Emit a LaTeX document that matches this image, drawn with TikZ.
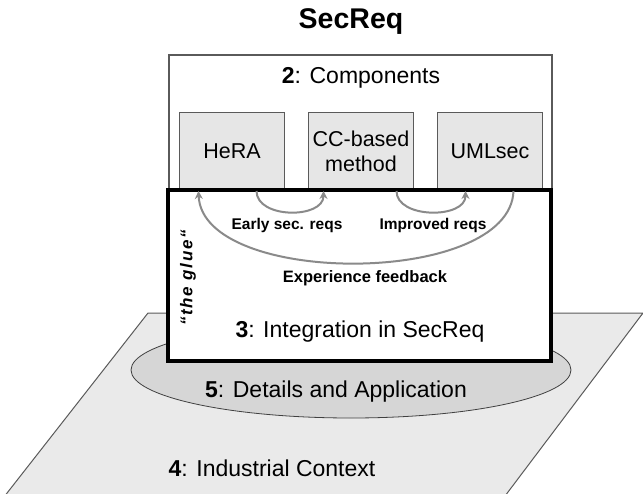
\documentclass[tikz,border=0pt]{standalone}
\usepackage{fontspec}
\setmainfont{Liberation Sans}
\newfontfamily\gluefont[LetterSpace=10]{Liberation Sans}
\usetikzlibrary{arrows.meta,shapes.geometric}
\definecolor{compfill}{HTML}{E6E6E6}
\definecolor{compline}{HTML}{5A5A5A}
\definecolor{ctxfill}{HTML}{EAEAEA}
\definecolor{ellfill}{HTML}{D6D6D6}
\definecolor{arrowgray}{HTML}{8A8A8A}
\tikzset{
  compbox/.style={draw=compline, fill=compfill, line width=1pt, minimum width=105pt, minimum height=78pt, anchor=north west, inner sep=0pt, align=center, font=\fontsize{21.5}{25}\selectfont},
  bigtext/.style={font=\fontsize{23}{27}\selectfont, inner sep=0pt},
  smalllabel/.style={font=\bfseries\fontsize{15.5}{18}\selectfont, inner sep=0pt},
  flow/.style={draw=arrowgray, line width=2pt, -{Stealth[length=8pt,width=8pt]}},
}
\begin{document}
\begin{tikzpicture}[x=1pt,y=-1pt]
\useasboundingbox (0,0) rectangle (643,493);
\begin{scope}
\clip (0,0) rectangle (643,493);
\fill[ctxfill] (1.6,500) -- (148,313) -- (643,313) -- (502,500) -- cycle;
\draw[compline, line width=1pt] (1.6,500) -- (148,313) -- (643,313) -- (502,500);
\end{scope}
\node[ellipse, draw=black!75, fill=ellfill, line width=0.8pt, minimum width=440pt, minimum height=96pt, inner sep=0pt] (details) at (351,370) {};
\node[font=\bfseries\fontsize{28.5}{31}\selectfont, inner sep=0pt] (title) at (351,22) {SecReq};
\draw[compline, line width=1.5pt] (169,55) rectangle (552,192);
\node[bigtext] (comp) at (361,78) {\textbf{2}: Components};
\node[compbox] (hera) at (179,112) {HeRA};
\node[compbox] (cc) at (308,112) {CC-based\\method};
\node[compbox] (uml) at (437,112) {UMLsec};
\draw[black, fill=white, line width=4pt] (168,189.5) rectangle (551,360.5);
\draw[flow] ([xshift=24.5pt]hera.south) .. controls ([xshift=24.5pt,yshift=-28pt]hera.south) and ([xshift=-37.5pt,yshift=-28pt]cc.south) .. ([xshift=-37.5pt]cc.south);
\draw[flow] ([xshift=35.5pt]cc.south) .. controls ([xshift=35.5pt,yshift=-28pt]cc.south) and ([xshift=-24.5pt,yshift=-28pt]uml.south) .. ([xshift=-24.5pt]uml.south);
\draw[flow] ([xshift=23.5pt]uml.south) .. controls ([xshift=20pt,yshift=-96pt]uml.south) and ([xshift=-30pt,yshift=-96pt]hera.south) .. ([xshift=-33.5pt]hera.south);
\node[smalllabel] (early) at (287,225) {Early sec. reqs};
\node[smalllabel] (improved) at (433,225) {Improved reqs};
\node[smalllabel, font=\bfseries\fontsize{16.5}{19}\selectfont] (feedback) at (365,278) {Experience feedback};
\node[font=\gluefont\bfseries\itshape\fontsize{17}{20}\selectfont, inner sep=0pt, rotate=90] (glue) at (188,278) {“the glue“};
\node[bigtext] (integ) at (360,332) {\textbf{3}: Integration in SecReq};
\node[bigtext] (detailstext) at (336,392) {\textbf{5}: Details and Application};
\node[bigtext] (industrial) at (272,468) {\textbf{4}: Industrial Context};
\end{tikzpicture}
\end{document}
